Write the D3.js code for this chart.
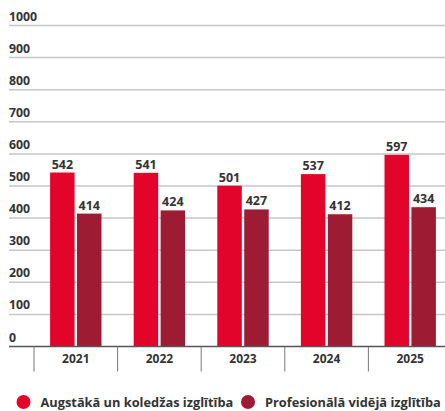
<!DOCTYPE html>
<html lang="lv">
<head>
<meta charset="utf-8">
<title>Izglītība</title>
<script src="https://d3js.org/d3.v7.min.js"></script>
<style>
  body { margin: 0; background: #fff; }
  text { font-family: "Open Sans", sans-serif; font-weight: 700; fill: #333; }
</style>
</head>
<body>
<script>
var years = ["2021", "2022", "2023", "2024", "2025"];
var seriesNames = ["Augstākā un koledžas izglītība", "Profesionālā vidējā izglītība"];
var higher = [542, 541, 501, 537, 597];
var vocational = [414, 424, 427, 412, 434];
var yTicks = [0, 100, 200, 300, 400, 500, 600, 700, 800, 900, 1000];
var colors = ["#e3042c", "#9d1c33"];

var width = 445, height = 411;

var svg = d3.select("body").append("svg")
    .attr("width", width)
    .attr("height", height);

var y = d3.scaleLinear().domain([0, 1000]).range([346.5, 25.5]);

// year bands start at the tick marks
var x0 = d3.scaleBand().domain(years).range([34, 452]).padding(0);
var x1 = d3.scaleBand().domain([0, 1]).range([-25.7, 25.7]).paddingInner(0.09);

// gridlines + labels
var grid = svg.append("g");
yTicks.forEach(function(t) {
  if (t > 0) {
    grid.append("line")
      .attr("x1", 9).attr("x2", width)
      .attr("y1", y(t)).attr("y2", y(t))
      .attr("stroke", "#c6c6c6").attr("stroke-width", 1.5);
  }
  grid.append("text")
    .attr("x", 9).attr("y", y(t) - 5)
    .attr("font-size", 12.3)
    .text(t);
});

// bars
var data = years.map(function(yr, i) { return { year: yr, values: [higher[i], vocational[i]] }; });

var groups = svg.selectAll(".grp").data(data).enter().append("g")
    .attr("transform", function(d) { return "translate(" + (x0(d.year) + x0.bandwidth() / 2) + ",0)"; });

groups.selectAll("rect").data(function(d) { return d.values; }).enter().append("rect")
    .attr("x", function(v, i) { return x1(i); })
    .attr("width", x1.bandwidth())
    .attr("y", function(v) { return y(v); })
    .attr("height", function(v) { return y(0) - y(v); })
    .attr("fill", function(v, i) { return colors[i]; });

groups.selectAll(".val").data(function(d) { return d.values; }).enter().append("text")
    .attr("x", function(v, i) { return x1(i) + x1.bandwidth() / 2; })
    .attr("y", function(v) { return y(v) - 4; })
    .attr("text-anchor", "middle")
    .attr("font-size", 12.5)
    .text(function(v) { return v; });

// baseline and category ticks
svg.append("line")
  .attr("x1", 9).attr("x2", width)
  .attr("y1", y(0)).attr("y2", y(0))
  .attr("stroke", "#555").attr("stroke-width", 1.5);

years.forEach(function(yr) {
  svg.append("line")
    .attr("x1", x0(yr)).attr("x2", x0(yr))
    .attr("y1", y(0)).attr("y2", y(0) + 25)
    .attr("stroke", "#777").attr("stroke-width", 1);
  svg.append("text")
    .attr("x", x0(yr) + x0.bandwidth() / 2)
    .attr("y", 363)
    .attr("text-anchor", "middle")
    .attr("font-size", 12)
    .text(yr);
});

// legend
var legendX = [23.5, 248];
seriesNames.forEach(function(name, i) {
  svg.append("circle")
    .attr("cx", legendX[i]).attr("cy", 402).attr("r", 7)
    .attr("fill", colors[i]);
  svg.append("text")
    .attr("x", legendX[i] + 17).attr("y", 407)
    .attr("font-size", 12.8)
    .text(name);
});
</script>
</body>
</html>
